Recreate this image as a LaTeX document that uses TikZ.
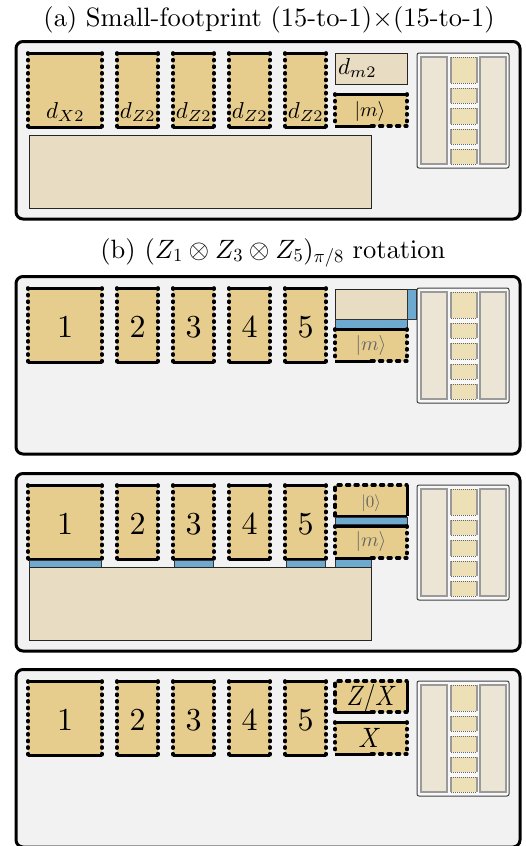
\documentclass[tikz,border=0pt]{standalone}
\usetikzlibrary{calc}
\DeclareFontShape{OML}{cmm}{m}{it}{<-16.5>cmmi7<16.5->cmmi10}{}
\DeclareFontShape{OMS}{cmsy}{m}{n}{<-16.5>cmsy7<16.5->cmsy10}{}
\DeclareFontShape{OT1}{cmr}{m}{n}{<-16.5>cmr7<16.5->cmr10}{}
\DeclareFontShape{OMX}{cmex}{m}{n}{<->cmex10}{}
\definecolor{gold}{HTML}{E7CD8D}
\definecolor{beige}{HTML}{E8DCC3}
\definecolor{bluec}{HTML}{6EAACF}
\definecolor{bgc}{HTML}{F2F2F2}
\definecolor{factbg}{HTML}{F8F8F8}
\definecolor{colfill}{HTML}{ECE4D5}
\definecolor{midfill}{HTML}{EEE0B6}
\definecolor{colborder}{HTML}{9A9A9A}
\newcommand\myfs[1]{\fontencoding{OT1}\fontfamily{cmr}\fontseries{m}\fontshape{n}\fontsize{#1}{#1}\selectfont}
\newcommand\mkrect[6]{\node[#1, minimum width={(#5)-(#3)}, minimum height={(#6)-(#4)}] (#2) at ({((#3)+(#5))/2},{((#4)+(#6))/2}) {};}
\newcommand\mkpatch[4]{%
 \mkrect{patch}{#1}{#2}{#3+13}{#4}{#3+87}
 \draw[solidedge] (#1.north west) -- (#1.north east);
 \draw[solidedge] (#1.south west) -- (#1.south east);
 \draw[dotedge] (#1.north west) -- (#1.south west);
 \draw[dotedge] (#1.north east) -- (#1.south east);
}
\newcommand\patches[2]{%
 \mkpatch{#11}{28}{#2}{102}
 \mkpatch{#12}{117}{#2}{158}
 \mkpatch{#13}{173}{#2}{214}
 \mkpatch{#14}{229}{#2}{270}
 \mkpatch{#15}{285}{#2}{326}
}
\newcommand\panelbox[2]{\mkrect{outerbox}{#1}{16}{#2+1.5}{520}{#2+179}}
\newcommand\fmid[5]{%
 \mkrect{fmidbox}{#1}{#2}{#3}{#4}{#5}
 \draw[fside] (#1.north west) -- (#1.south west) (#1.north east) -- (#1.south east);
 \draw[fdot] (#1.north west) -- (#1.north east) (#1.south west) -- (#1.south east);
}
\newcommand\factory[2]{%
 \mkrect{fact}{#1}{417}{#2+13}{509}{#2+128}
 \mkrect{fcol}{#1l}{421}{#2+17}{447}{#2+124}
 \mkrect{fcol}{#1r}{480}{#2+17}{506}{#2+124}
 \fmid{#1m1}{451}{#2+17}{477}{#2+43}
 \fmid{#1m2}{451}{#2+48}{477}{#2+63}
 \fmid{#1m3}{451}{#2+68}{477}{#2+84}
 \fmid{#1m4}{451}{#2+89}{477}{#2+104}
 \fmid{#1m5}{451}{#2+109}{477}{#2+124}
}
\newcommand\mblock[2]{%
 \mkrect{patch}{#1}{335}{#2+54}{407}{#2+86}
 \draw[solidedge] (#1.north west) -- (#1.north east);
 \draw[solidedge] (#1.south west) -- (#1.south);
 \draw[dashedge] (#1.south) -- (#1.south east);
 \draw[dotedge] (#1.north west) -- (#1.south west);
 \draw[dotedge] (#1.north east) -- (#1.south east);
}
\newcommand\numbers[2]{%
 \node[num] (#1n1) at (65,#2+52) {1};
 \node[num] (#1n2) at (137.5,#2+52) {2};
 \node[num] (#1n3) at (193.5,#2+52) {3};
 \node[num] (#1n4) at (249.5,#2+52) {4};
 \node[num] (#1n5) at (305.5,#2+52) {5};
}
\begin{document}
\begin{tikzpicture}[x=1pt,y=-1pt,
 outerbox/.style={draw=black, line width=3pt, rounded corners=7pt, fill=bgc, inner sep=0, outer sep=0},
 patch/.style={fill=gold, inner sep=0, outer sep=0},
 beigebox/.style={fill=beige, draw=black!85, line width=1pt, inner sep=0, outer sep=0},
 bluebox/.style={fill=bluec, draw=black!80, line width=0.8pt, inner sep=0, outer sep=0},
 fact/.style={fill=factbg, draw=black!75, line width=1pt, rounded corners=2pt, inner sep=0, outer sep=0},
 fcol/.style={fill=colfill, draw=colborder, line width=1.3pt, inner sep=0, outer sep=0},
 fmidbox/.style={fill=midfill, inner sep=0, outer sep=0},
 fside/.style={draw=colborder, line width=1.2pt},
 fdot/.style={draw=black!60, line width=1pt, dash pattern=on 1pt off 1pt},
 solidedge/.style={line width=3pt, line cap=butt},
 dotedge/.style={line width=3.6pt, line cap=round, dash pattern=on 1.1pt off 5.5pt},
 dashedge/.style={line width=3.2pt, line cap=round, dash pattern=on 3.2pt off 5.3pt},
 lab/.style={inner sep=0, outer sep=0, font=\myfs{23}},
 num/.style={inner sep=0, outer sep=0, font=\myfs{32}},
 ket/.style={inner sep=0, outer sep=0, font=\myfs{20}},
 title/.style={inner sep=0, outer sep=0, font=\myfs{26.5}, anchor=base}]
\useasboundingbox (0,0) rectangle (526,846);

% ---------- (a) ----------
\def\T{40}
\node[title] (ta) at (269,26) {(a) Small-footprint (15-to-1)$\times$(15-to-1)};
\panelbox{A}{\T}
\patches{a}{\T}
\factory{af}{\T}
\node[lab, anchor=base] (a1t) at (65,\T+78) {$d_{X2}$};
\node[lab, anchor=base] (a2t) at (137.5,\T+78) {$d_{Z2}$};
\node[lab, anchor=base] (a3t) at (193.5,\T+78) {$d_{Z2}$};
\node[lab, anchor=base] (a4t) at (249.5,\T+78) {$d_{Z2}$};
\node[lab, anchor=base] (a5t) at (305.5,\T+78) {$d_{Z2}$};
\mkrect{beigebox}{adm}{335}{\T+13}{407}{\T+44}
\node[lab, anchor=base west] (admt) at (338,\T+34) {$d_{m2}$};
\mblock{am}{\T}
\node[ket] (amt) at (370,\T+71) {$|m\rangle$};
\mkrect{beigebox}{abig}{29}{\T+95}{371}{\T+168}

% ---------- (b) first ----------
\def\T{275}
\node[title] (tb) at (273,258) {(b) $(Z_1\otimes Z_3\otimes Z_5)_{\pi/8}$ rotation};
\panelbox{B}{\T}
\patches{b}{\T}
\factory{bf}{\T}
\numbers{b}{\T}
\mkrect{beigebox}{bbx}{335}{\T+14}{407}{\T+44}
\mkrect{bluebox}{bbv}{407}{\T+14}{416}{\T+44}
\mkrect{bluebox}{bbh}{335}{\T+44}{407}{\T+54}
\mblock{bm}{\T}
\node[ket, text=black!60] (bmt) at (371,\T+70) {$|m\rangle$};

% ---------- (b) second ----------
\def\T{472}
\panelbox{C}{\T}
\patches{c}{\T}
\factory{cf}{\T}
\numbers{c}{\T}
\mkrect{bluebox}{cb1}{29}{\T+88.5}{101}{\T+95}
\mkrect{bluebox}{cb3}{174}{\T+88.5}{213}{\T+95}
\mkrect{bluebox}{cb5}{286}{\T+88.5}{325}{\T+95}
\mkrect{bluebox}{cbm}{335}{\T+87.5}{371}{\T+95}
\mkrect{patch}{cz}{335}{\T+13}{407}{\T+44}
\draw[dashedge] (cz.south west) -- (cz.north west) -- (cz.north east);
\draw[solidedge] (cz.north east) -- (cz.south east);
\draw[solidedge] (cz.south west) -- (cz.south east);
\node[ket, font=\myfs{17}, text=black!60] (czt) at (371,\T+31) {$|0\rangle$};
\mkrect{bluebox}{cbh}{335}{\T+45.5}{407}{\T+52.5}
\mblock{cm}{\T}
\node[ket, text=black!60] (cmt) at (371,\T+69) {$|m\rangle$};
\mkrect{beigebox}{cbig}{29}{\T+95}{371}{\T+168}

% ---------- (b) third ----------
\def\T{668}
\panelbox{D}{\T}
\patches{d}{\T}
\factory{df}{\T}
\numbers{d}{\T}
\mkrect{patch}{dz}{335}{\T+13}{407}{\T+44}
\draw[dashedge] (dz.south west) -- (dz.north west) -- (dz.north east);
\draw[solidedge] (dz.north east) -- (dz.south east);
\draw[solidedge] (dz.south west) -- (dz.south);
\draw[dashedge] (dz.south) -- (dz.south east);
\node[ket, font=\myfs{28}] (dzt) at (372,\T+30) {\scalebox{0.85}[1]{$Z/X$}};
\mblock{dm}{\T}
\node[ket, font=\myfs{28}] (dmt) at (370,\T+70) {\scalebox{0.9}[1]{$X$}};
\end{tikzpicture}
\end{document}
